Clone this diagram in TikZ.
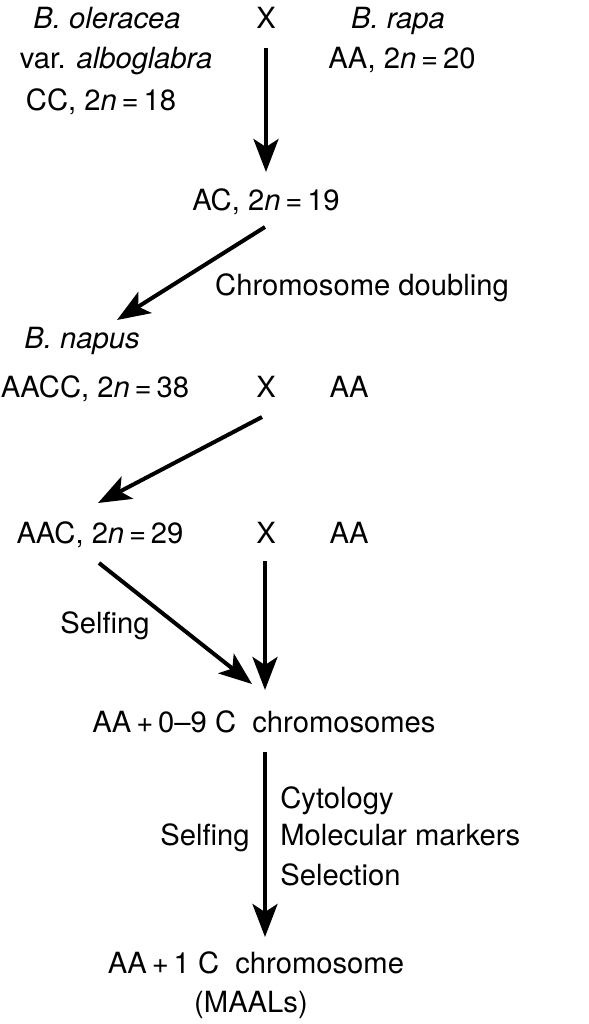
\documentclass[tikz,border=0pt]{standalone}
\usepackage{fontspec}
\setmainfont{TeX Gyre Heros}
\usetikzlibrary{arrows.meta,positioning}
\begin{document}
\begin{tikzpicture}[x=0.5pt, y=-0.5pt,
  every node/.style={font=\fontsize{14.6}{17}\selectfont, inner sep=0pt, anchor=base},
  arr/.style={-{Stealth[length=16.5pt,width=12.5pt,inset=4pt]}, line width=2pt}]
\useasboundingbox (0,0) rectangle (589,1024);
% parents
\node (olera)  at (107,28)  {\textit{B. oleracea}};
\node (var)    at (116,68)  {var. \textit{alboglabra}};
\node (cc)     at (101,110) {CC, 2\textit{n}\,=\,18};
\node (x1)     at (266,28)  {X};
\node (rapa)   at (398,28)  {\textit{B. rapa}};
\node (aa1)    at (402,68)  {AA, 2\textit{n}\,=\,20};
% hybrid
\node (ac)     at (266,210) {AC, 2\textit{n}\,=\,19};
\node (doubl)  at (362,295) {Chromosome doubling};
\node (napus)  at (82,348)  {\textit{B. napus}};
\node (aacc)   at (95,397)  {AACC, 2\textit{n}\,=\,38};
\node (x2)     at (266,397) {X};
\node (aa2)    at (349,397) {AA};
\node (aac)    at (100,543) {AAC, 2\textit{n}\,=\,29};
\node (x3)     at (266,543) {X};
\node (aa3)    at (349,543) {AA};
\node (self1)  at (105,633) {Selfing};
\node (mix)    at (264,732) {AA\,+\,0--9 C\ \ chromosomes};
% selection
\node (self2)  at (205,845) {Selfing};
\node[anchor=base west] (cyto) at (280,808) {Cytology};
\node[anchor=base west] (mol)  at (280,845) {Molecular markers};
\node[anchor=base west] (sel)  at (280,885) {Selection};
\node (maal)   at (256,973) {AA\,+\,1 C\ \ chromosome};
\node (maals)  at (251,1012) {(MAALs)};
% arrows
\draw[arr] ([shift={(0,20)}]x1.base) -- ([shift={(0,-38)}]ac.base);
\draw[arr] ([shift={(-1,17)}]ac.base) -- ([shift={(35,-28)}]napus.base);
\draw[arr] ([shift={(-4,20)}]x2.base) -- ([shift={(-2,-40)}]aac.base);
\draw[arr] ([shift={(-1,20)}]aac.base) -- ([shift={(-12,-48)}]mix.base);
\draw[arr] ([shift={(-1,18)}]x3.base) -- ([shift={(1,-42)}]mix.base);
\draw[arr] ([shift={(1,20)}]mix.base) -- ([shift={(9,-36)}]maal.base);
\end{tikzpicture}
\end{document}
